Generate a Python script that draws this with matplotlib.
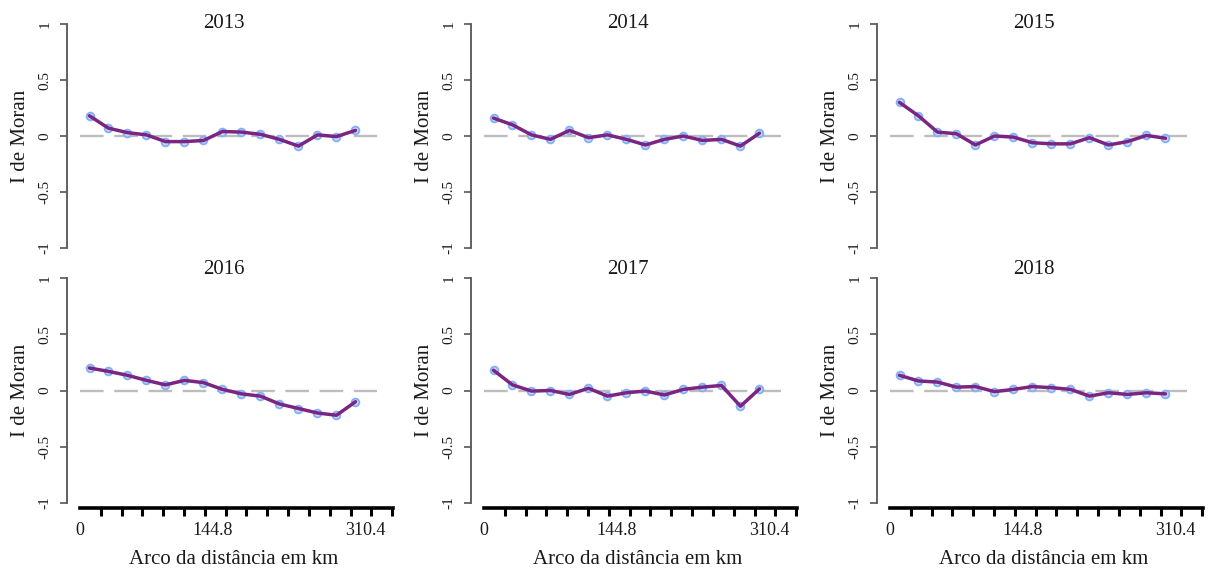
import numpy as np
import matplotlib
matplotlib.use('Agg')
import matplotlib.pyplot as plt

plt.rcParams['font.family'] = ['Liberation Serif', 'DejaVu Serif']

# class midpoints of the distance classes (km)
dist = [10.35, 31.0, 51.7, 72.4, 93.1, 113.8, 134.5, 155.2,
        175.9, 196.6, 217.3, 238.0, 258.7, 279.4, 300.1]

years = ['2013', '2014', '2015', '2016', '2017', '2018']

moran_2013 = [0.18, 0.07, 0.03, 0.01, -0.05, -0.05, -0.04, 0.04,
              0.035, 0.015, -0.03, -0.09, 0.01, -0.005, 0.05]
moran_2014 = [0.16, 0.10, 0.01, -0.03, 0.05, -0.015, 0.01, -0.03,
              -0.08, -0.03, 0.0, -0.04, -0.03, -0.09, 0.025]
moran_2015 = [0.30, 0.18, 0.035, 0.02, -0.08, 0.0, -0.01, -0.06,
              -0.07, -0.07, -0.015, -0.08, -0.05, 0.005, -0.02]
moran_2016 = [0.20, 0.17, 0.135, 0.09, 0.05, 0.09, 0.07, 0.01,
              -0.03, -0.05, -0.12, -0.16, -0.20, -0.22, -0.10]
moran_2017 = [0.18, 0.05, -0.005, 0.0, -0.035, 0.02, -0.05, -0.02,
              -0.005, -0.04, 0.01, 0.03, 0.045, -0.14, 0.015]
moran_2018 = [0.135, 0.085, 0.075, 0.03, 0.035, -0.01, 0.01, 0.035,
              0.025, 0.01, -0.05, -0.02, -0.035, -0.02, -0.03]

series = [moran_2013, moran_2014, moran_2015, moran_2016, moran_2017, moran_2018]

xtick_labels = ['0', '144.8', '310.4']
xtick_vals = [0, 144.8, 310.4]
ytick_vals = [-1, -0.5, 0, 0.5, 1]
ytick_labels = ['-1', '-0.5', '0', '0.5', '1']

W, H = 1209, 573
fig = plt.figure(figsize=(W / 100, H / 100), dpi=100)

spine_x = [67, 471, 877]
rows_px = [(24, 248), (278, 503)]   # y of +1 and -1, pixels from top
ax_w = 326
px_per_km = 0.918
txt = '#1a1a1a'

for i, (year, vals) in enumerate(zip(years, series)):
    r, c = divmod(i, 3)
    top, bot = rows_px[r]
    ax = fig.add_axes([spine_x[c] / W, (H - bot) / H, ax_w / W, (bot - top) / H])
    x0 = -13 / px_per_km
    ax.set_xlim(x0, x0 + ax_w / px_per_km)
    ax.set_ylim(-1, 1)
    ax.patch.set_alpha(0)

    # reference line at zero
    ax.plot([0, 323], [0, 0], color='#bdbdbd', lw=1.7,
            linestyle=(0, (10, 4.5)), zorder=1)
    ax.plot(dist, vals, 'o', mfc='#c9dcfb', mec='#86b0f5', mew=1.4, ms=5.5, zorder=2)
    ax.plot(dist, vals, color='#7a2583', lw=2.5, zorder=3,
            solid_capstyle='round', solid_joinstyle='round')

    for s in ['top', 'right']:
        ax.spines[s].set_visible(False)
    ax.spines['left'].set_color('#555555')
    ax.spines['left'].set_linewidth(1.3)
    ax.spines['left'].set_bounds(-1, 1)
    ax.set_yticks(ytick_vals)
    ax.set_yticklabels(ytick_labels, rotation=90, va='center', fontsize=11, color=txt)
    ax.tick_params(axis='y', length=5, width=1.2, color='#555555', pad=6)
    ax.set_ylabel('I de Moran', fontsize=15, color=txt, va='center')
    ax.yaxis.set_label_coords(-0.144, 0.5)

    if r == 0:
        ax.spines['bottom'].set_visible(False)
        ax.set_xticks([])
        ax.text(0.48, 1.0, year, transform=ax.transAxes, ha='center', va='center',
                fontsize=15, color=txt)
    else:
        ax.spines['bottom'].set_position(('outward', 3.6))
        ax.spines['bottom'].set_linewidth(2.6)
        ax.spines['bottom'].set_bounds(0, 341)
        ax.set_xticks(xtick_vals)
        ax.set_xticklabels(xtick_labels, fontsize=13, color=txt)
        ax.set_xticks(np.linspace(0, 340, 16), minor=True)
        ax.tick_params(axis='x', which='major', length=0, pad=10)
        ax.tick_params(axis='x', which='minor', length=5.5, width=2.2, color='black')
        ax.set_xlabel('Arco da distância em km', fontsize=15, color=txt)
        ax.xaxis.set_label_coords(0.51, -0.253)
        ax.xaxis.label.set_va('center')
        ax.text(0.48, 1.036, year, transform=ax.transAxes, ha='center', va='center',
                fontsize=15, color=txt)

fig.savefig('out.png', dpi=100, facecolor='w')
